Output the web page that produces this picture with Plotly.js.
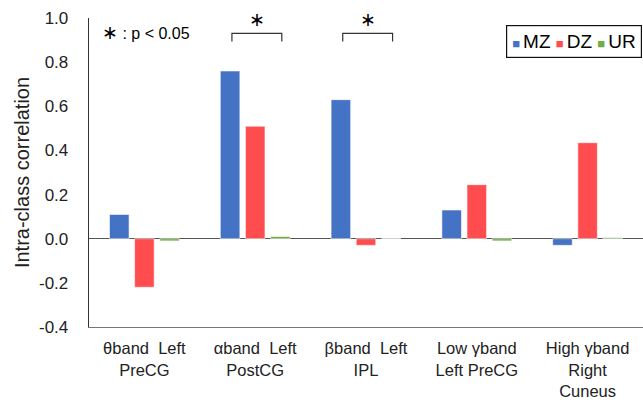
<!DOCTYPE html>
<html>
<head>
<meta charset="utf-8">
<script src="https://cdn.plot.ly/plotly-3.0.1.min.js"></script>
<style>html,body{margin:0;padding:0;background:#fff}#chart{width:643px;height:402px}</style>
</head>
<body>
<div id="chart"></div>
<script>
var categories = ["θband  Left<br>PreCG", "αband  Left<br>PostCG", "βband  Left<br>IPL", "Low γband<br>Left PreCG", "High γband<br>Right<br>Cuneus"];
var seriesNames = ["MZ", "DZ", "UR"];
var mzValues = [0.11, 0.76, 0.63, 0.13, -0.03];
var dzValues = [-0.22, 0.51, -0.03, 0.245, 0.435];
var urValues = [-0.01, 0.01, 0.0, -0.01, 0.005];
var yTicks = [-0.4, -0.2, 0.0, 0.2, 0.4, 0.6, 0.8, 1.0];
var yTickText = ["-0.4", "-0.2", "0.0", "0.2", "0.4", "0.6", "0.8", "1.0"];
var significantGroups = [1, 2];

var colors = ["#4472C4", "#FF4D4F", "#70AD47"];
var allValues = [mzValues, dzValues, urValues];
var idx = categories.map(function(_, i){ return i; });
var FONT = "Liberation Sans, Arial, sans-serif";

var traces = allValues.map(function(vals, k){
  return {
    type: "bar", name: seriesNames[k], x: idx, y: vals,
    marker: {color: colors[k], line: {color: "rgba(255,255,255,0.6)", width: 1}},
    hoverinfo: "skip", showlegend: false
  };
});

var legendText = seriesNames.map(function(n, k){
  return '<span style="color:' + colors[k] + ';font-size:13px">■</span><span style="font-size:11px">&nbsp;</span>' + n;
}).join("&nbsp;");

var shapes = [];
var annotations = [{
  xref: "paper", yref: "y", x: 0.02, y: 0.935, xanchor: "left", yanchor: "middle",
  text: '<span style="font-size:19px">∗</span>&nbsp;: p < 0.05', showarrow: false,
  font: {family: FONT, size: 16, color: "#000"}
}, {
  xref: "paper", yref: "paper", x: 0.9985, y: 0.977, xanchor: "right", yanchor: "top",
  text: legendText, showarrow: false,
  font: {family: FONT, size: 19, color: "#000"},
  bordercolor: "#111", borderwidth: 1.2, borderpad: 5, bgcolor: "#fff"
}];
significantGroups.forEach(function(g){
  var x0 = g - 0.21, x1 = g + 0.24, yTop = 0.93, yBot = 0.893;
  shapes.push({type: "path", xref: "x", yref: "y",
    path: "M " + x0 + " " + yBot + " L " + x0 + " " + yTop + " L " + x1 + " " + yTop + " L " + x1 + " " + yBot,
    line: {color: "#333", width: 1.2}});
  annotations.push({xref: "x", yref: "y", x: g + 0.015, y: 0.935, yanchor: "bottom",
    text: "∗", showarrow: false,
    font: {family: FONT, size: 19, color: "#000"}});
});

var layout = {
  width: 643, height: 402,
  margin: {l: 89, r: 0, t: 18, b: 75},
  paper_bgcolor: "#fff", plot_bgcolor: "#fff",
  font: {family: FONT, size: 17, color: "#222"},
  barmode: "group", bargap: 0.32, bargroupgap: 0.22,
  showlegend: false,
  xaxis: {
    type: "linear", range: [-0.5, 4.5],
    tickmode: "array", tickvals: idx, ticktext: categories,
    showline: true, linecolor: "#777", linewidth: 1.3,
    showgrid: false, zeroline: false, ticks: "outside", ticklen: 6, tickcolor: "rgba(0,0,0,0)",
    tickfont: {size: 16.5, color: "#222"}
  },
  yaxis: {
    range: [-0.4, 1.0], tickmode: "array", tickvals: yTicks, ticktext: yTickText,
    showline: true, linecolor: "#333", linewidth: 1.3,
    showgrid: false, zeroline: true, zerolinecolor: "#555", zerolinewidth: 1.3,
    ticks: "outside", ticklen: 16, tickcolor: "rgba(0,0,0,0)",
    tickfont: {size: 17, color: "#222"},
    title: {text: "Intra-class correlation", font: {size: 20, color: "#222"}, standoff: 4}
  },
  shapes: shapes,
  annotations: annotations
};

Plotly.newPlot("chart", traces, layout, {displayModeBar: false, staticPlot: true});
</script>
</body>
</html>
